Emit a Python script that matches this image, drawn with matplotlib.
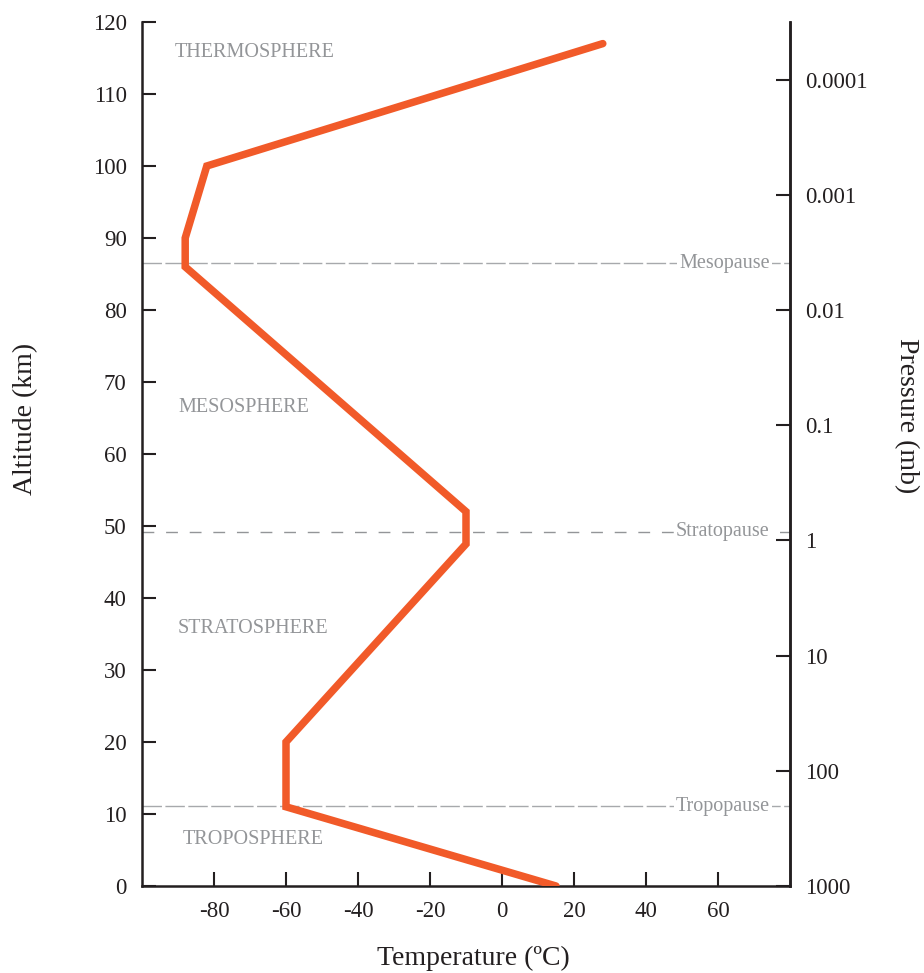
import matplotlib.pyplot as plt
import numpy as np

plt.rcParams['font.family'] = ['Liberation Serif', 'DejaVu Serif']
plt.rcParams['axes.unicode_minus'] = False

# temperature profile (deg C) vs altitude (km)
temp = [15, -60, -60, -10, -10, -88, -88, -82, 28]
alt = [0, 11, 20, 47.5, 52, 86, 90, 100, 117]

# boundaries between layers
pause_names = ['Tropopause', 'Stratopause', 'Mesopause']
pause_alt = [11.1, 49.2, 86.5]
pause_color = ['#a7a9ac', '#939598', '#a7a9ac']
pause_dash = [(0, (14, 2.5)), (0, (8.5, 8.5)), (0, (14, 2.5))]

layer_names = ['TROPOSPHERE', 'STRATOSPHERE', 'MESOSPHERE', 'THERMOSPHERE']
layer_x = [-88.6, -90, -90, -90.8]
layer_y = [6.4, 35.8, 66.5, 115.8]

pressure_ticks = [1000, 100, 10, 1, 0.1, 0.01, 0.001, 0.0001]
pressure_labels = ['1000', '100', '10', '1', '0.1', '0.01', '0.001', '0.0001']

dark = '#231f20'
gray = '#939598'

fig = plt.figure(figsize=(9.24, 9.73), dpi=100)
ax = fig.add_axes([142/924, 87/973, 648/924, 864/973])

for name, a, c, d in zip(pause_names, pause_alt, pause_color, pause_dash):
    ax.plot([-100, 80], [a, a], color=c, lw=1.0, linestyle=d, zorder=1)
    ax.text(74.4, a, name, ha='right', va='center', color=gray, fontsize=14.5,
            bbox=dict(facecolor='white', edgecolor='none', pad=1.5), zorder=2)

for name, x, y in zip(layer_names, layer_x, layer_y):
    ax.text(x, y, name, ha='left', va='center', color=gray, fontsize=14.5)

ax.plot(temp, alt, color='#f15a29', lw=5.4, solid_capstyle='round',
        solid_joinstyle='miter', zorder=3)

ax.set_xlim(-100, 80)
ax.set_ylim(0, 120)
ax.set_xticks(np.arange(-80, 61, 20))
ax.set_yticks(np.arange(0, 121, 10))
ax.spines['top'].set_visible(False)
for s in ['left', 'bottom', 'right']:
    ax.spines[s].set_linewidth(1.8)
    ax.spines[s].set_color(dark)
ax.tick_params(axis='both', direction='in', length=10, width=1.5,
               color=dark, labelcolor=dark, labelsize=16.5)
ax.tick_params(axis='x', pad=11)
ax.tick_params(axis='y', pad=11)

ax2 = ax.twinx()
ax2.set_yscale('log')
ax2.set_ylim(1000, 1000 * 10 ** (-120 / 16))
ax2.set_yticks(pressure_ticks)
ax2.set_yticklabels(pressure_labels)
ax2.minorticks_off()
for s in ['top', 'left', 'bottom']:
    ax2.spines[s].set_visible(False)
ax2.spines['right'].set_linewidth(1.8)
ax2.spines['right'].set_color(dark)
ax2.tick_params(axis='y', direction='in', length=10, width=1.5, pad=11,
                color=dark, labelcolor=dark, labelsize=16.5)

fig.text(473/924, 1 - 958/973, 'Temperature (ºC)', ha='center', va='center',
         fontsize=20, color=dark)
fig.text(26/924, 1 - 419/973, 'Altitude (km)', ha='center', va='center',
         rotation=90, fontsize=20, color=dark)
fig.text(906/924, 1 - 416/973, 'Pressure (mb)', ha='center', va='center',
         rotation=270, fontsize=20, color=dark)

fig.savefig('out.png', dpi=100)
